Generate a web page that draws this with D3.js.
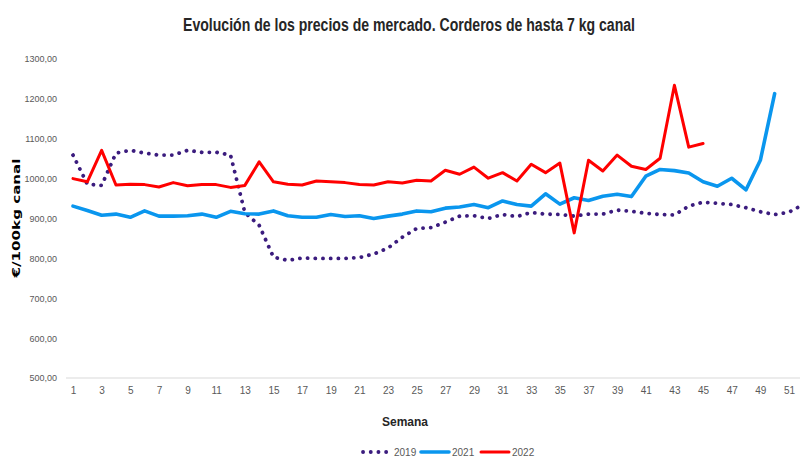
<!DOCTYPE html>
<html><head><meta charset="utf-8">
<script src="https://cdn.jsdelivr.net/npm/d3@7"></script>
<style>body{margin:0;background:#fff}svg{display:block}</style>
</head><body>
<svg id="c" width="800" height="463"></svg>
<script>
const weeks = d3.range(1, 53);
const tickWeeks = d3.range(1, 52, 2);
const yTicks = [500, 600, 700, 800, 900, 1000, 1100, 1200, 1300];
const seriesNames = ["2019", "2021", "2022"];
const values2019 = [1059, 986, 983, 1064, 1071, 1064, 1059, 1059, 1071, 1066, 1066, 1059, 915, 883, 803, 795, 801, 800, 800, 800, 802, 811, 826, 853, 875, 877, 891, 906, 907, 900, 910, 905, 915, 911, 910, 906, 911, 911, 921, 918, 913, 910, 909, 931, 941, 938, 935, 927, 917, 910, 916, 935];
const values2021 = [931, 920, 908, 911, 903, 919, 906, 906, 907, 911, 903, 918, 912, 911, 919, 907, 903, 903, 910, 905, 907, 900, 906, 911, 919, 917, 926, 929, 935, 927, 944, 935, 931, 962, 936, 952, 945, 956, 961, 955, 1006, 1023, 1020, 1014, 992, 981, 1001, 972, 1046, 1213];
const values2022 = [1000, 992, 1071, 984, 986, 985, 979, 990, 982, 985, 985, 978, 983, 1042, 992, 986, 984, 994, 992, 990, 985, 984, 992, 989, 996, 994, 1021, 1011, 1029, 1001, 1015, 994, 1036, 1015, 1039, 864, 1046, 1019, 1059, 1031, 1023, 1051, 1234, 1079, 1088];
const colors = ["#3b1c7e", "#0a96ee", "#ff0000"];

const svg = d3.select("#c");
const x = d3.scaleLinear().domain([1, 52]).range([73, 803.3]);
const y = d3.scaleLinear().domain([500, 1300]).range([378, 59]);

svg.append("text").attr("x", 409).attr("y", 31).attr("text-anchor", "middle")
  .attr("font-family", "Liberation Sans Narrow, Arial Narrow, sans-serif").attr("font-weight", "bold")
  .attr("font-size", 18).attr("fill", "#262626")
  .attr("textLength", 452).attr("lengthAdjust", "spacingAndGlyphs")
  .text("Evolución de los precios de mercado. Corderos de hasta 7 kg canal");

// y axis labels
const yAxis = d3.axisLeft(y).tickValues(yTicks).tickSize(0).tickPadding(0)
  .tickFormat(d => d3.format(".2f")(d).replace(".", ","));
const ya = svg.append("g").attr("transform", "translate(57,0)").call(yAxis);
ya.select(".domain").remove();
ya.selectAll("text").attr("font-family", "Liberation Sans Narrow, Arial Narrow, sans-serif")
  .attr("font-size", 9).attr("fill", "#595959");

svg.append("text").attr("transform", "translate(20,218) rotate(-90)").attr("text-anchor", "middle")
  .attr("font-family", "DejaVu Sans, sans-serif").attr("font-weight", "bold").attr("font-size", 11)
  .attr("fill", "#000").attr("textLength", 119).attr("lengthAdjust", "spacingAndGlyphs")
  .text("€/100kg canal");

// x axis
svg.append("line").attr("x1", 66).attr("x2", 800).attr("y1", y(500)).attr("y2", y(500))
  .attr("stroke", "#d9d9d9").attr("stroke-width", 1.2);
const xAxis = d3.axisBottom(x).tickValues(tickWeeks).tickSize(0).tickPadding(0).tickFormat(d3.format("d"));
const xa = svg.append("g").attr("transform", `translate(0,${y(500) + 16})`).call(xAxis);
xa.select(".domain").remove();
xa.selectAll("text").attr("dy", 0).attr("font-family", "Liberation Sans Narrow, Arial Narrow, sans-serif")
  .attr("font-size", 10).attr("fill", "#595959");

svg.append("text").attr("x", 405).attr("y", 426).attr("text-anchor", "middle")
  .attr("font-family", "Liberation Sans Narrow, Arial Narrow, sans-serif").attr("font-weight", "bold")
  .attr("font-size", 12).attr("fill", "#262626").text("Semana");

const line = d3.line().x((d, i) => x(weeks[i])).y(d => y(d));
const defs = [
  {vals: values2019, color: colors[0], w: 3.8, dash: "0.1 7.6", cap: "round"},
  {vals: values2021, color: colors[1], w: 3.6, dash: null, cap: "round"},
  {vals: values2022, color: colors[2], w: 3, dash: null, cap: "round"}
];
defs.forEach(s => {
  svg.append("path").datum(s.vals).attr("d", line).attr("fill", "none")
    .attr("stroke", s.color).attr("stroke-width", s.w).attr("stroke-linecap", s.cap)
    .attr("stroke-linejoin", "round").attr("stroke-dasharray", s.dash);
});

// legend
const lx = [363, 421, 481];
seriesNames.forEach((n, i) => {
  const g = svg.append("g").attr("transform", `translate(${lx[i]},452)`);
  g.append("line").attr("x1", 0).attr("x2", 28).attr("y1", 0).attr("y2", 0)
    .attr("stroke", colors[i]).attr("stroke-width", defs[i].w).attr("stroke-linecap", "round")
    .attr("stroke-dasharray", defs[i].dash);
  g.append("text").attr("x", 31).attr("y", 3.5).attr("font-family", "Liberation Sans Narrow, Arial Narrow, sans-serif")
    .attr("font-size", 10).attr("fill", "#595959").text(n);
});
</script>
</body></html>
